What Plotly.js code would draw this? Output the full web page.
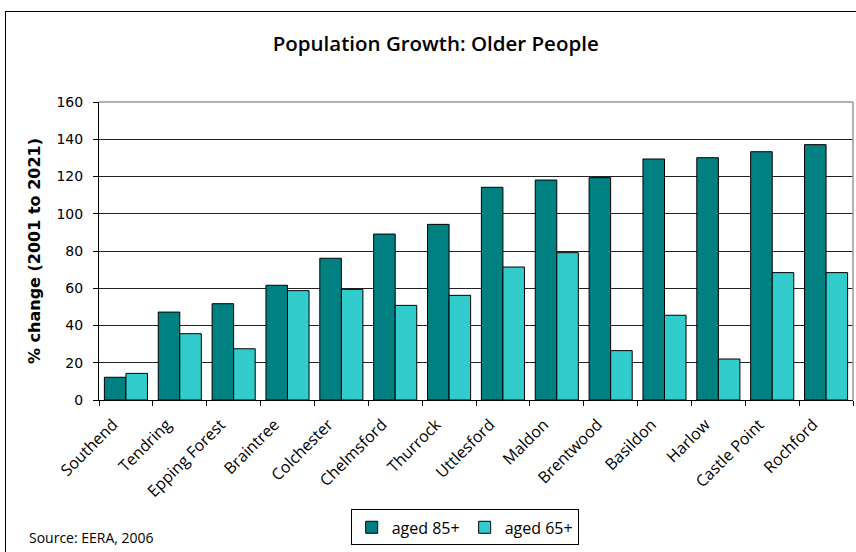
<!DOCTYPE html>
<html>
<head>
<meta charset="utf-8">
<script src="https://cdn.plot.ly/plotly-3.0.1.min.js"></script>
<style>
  html, body { margin: 0; padding: 0; background: #fff; }
  #wrap { position: relative; width: 856px; height: 552px; overflow: hidden; }
  #frame { position: absolute; left: 5px; top: 11px; width: 900px; height: 600px;
           border-left: 1.5px solid #000; border-top: 1.5px solid #000; pointer-events: none; }
  #chart { position: absolute; left: 0; top: 0; width: 856px; height: 552px; }
</style>
</head>
<body>
<div id="wrap">
  <div id="chart"></div>
  <div id="frame"></div>
</div>
<script>
const categories = ["Southend", "Tendring", "Epping Forest", "Braintree", "Colchester",
  "Chelmsford", "Thurrock", "Uttlesford", "Maldon", "Brentwood", "Basildon", "Harlow",
  "Castle Point", "Rochford"];
const aged85 = [12.2, 47.2, 51.7, 61.6, 76.1, 89.1, 94.3, 114.2, 118.1, 119.4, 129.4, 130.1, 133.3, 137.1];
const aged65 = [14.3, 35.6, 27.5, 58.7, 59.4, 50.8, 56.2, 71.4, 79.1, 26.5, 45.5, 22.0, 68.4, 68.4];
const seriesNames = ["aged 85+", "aged 65+"];
const yTicks = [0, 20, 40, 60, 80, 100, 120, 140, 160];

const traces = [
  { type: "bar", x: categories, y: aged85, name: seriesNames[0],
    marker: { color: "#008080", line: { color: "#000", width: 1 } } },
  { type: "bar", x: categories, y: aged65, name: seriesNames[1],
    marker: { color: "#33CCCC", line: { color: "#000", width: 1 } } }
];

const layout = {
  width: 856, height: 552,
  margin: { l: 99, r: 3, t: 102, b: 152, pad: 0 },
  paper_bgcolor: "rgba(0,0,0,0)", plot_bgcolor: "#fff",
  barmode: "group", bargap: 0.2, bargroupgap: 0,
  title: { text: "Population Growth: Older People", x: 0.509, xanchor: "center",
           y: 1 - 44 / 552, yanchor: "middle", yref: "container",
           font: { family: "Open Sans", size: 20.5, color: "#000", weight: 600 } },
  xaxis: {
    type: "category", tickangle: -45, ticks: "outside", tickson: "boundaries",
    ticklen: 5, tickcolor: "#000", showline: true, linecolor: "#000", linewidth: 1,
    showgrid: false, automargin: false, ticklabelstandoff: 8, ticklabelshift: -13,
    tickfont: { family: "Open Sans", size: 16, color: "#000" }
  },
  yaxis: {
    range: [0, 160], tickvals: yTicks, ticktext: yTicks.map(String),
    ticks: "outside", ticklen: 5, tickcolor: "#000",
    showline: true, linecolor: "#000", linewidth: 1,
    showgrid: true, gridcolor: "#222", gridwidth: 1, zeroline: false,
    automargin: false, ticklabelstandoff: 7,
    tickfont: { family: "DejaVu Sans", size: 14, color: "#000" },
    title: { text: "% change (2001 to 2021)", standoff: 11,
             font: { family: "DejaVu Sans", size: 16, color: "#000", weight: "bold" } }
  },
  shapes: [
    { type: "line", xref: "paper", yref: "paper", x0: 0, x1: 1, y0: 1, y1: 1,
      line: { color: "#999", width: 1.5 }, layer: "above" },
    { type: "line", xref: "paper", yref: "paper", x0: 1, x1: 1, y0: 0, y1: 1,
      line: { color: "#999", width: 1.5 }, layer: "above" }
  ],
  showlegend: true,
  legend: {
    orientation: "h", x: 0.485, xanchor: "center", y: -0.367, yanchor: "top",
    bordercolor: "#000", borderwidth: 1, bgcolor: "#fff",
    font: { family: "Open Sans", size: 16, color: "#000" },
    itemwidth: 30, tracegroupgap: 0
  },
  annotations: [
    { text: "Source: EERA, 2006", xref: "paper", yref: "paper",
      x: -0.0955, y: -0.46, xanchor: "left", yanchor: "middle", showarrow: false,
      font: { family: "Open Sans", size: 14, color: "#000" } }
  ]
};

Plotly.newPlot("chart", traces, layout, { staticPlot: true });
</script>
</body>
</html>
